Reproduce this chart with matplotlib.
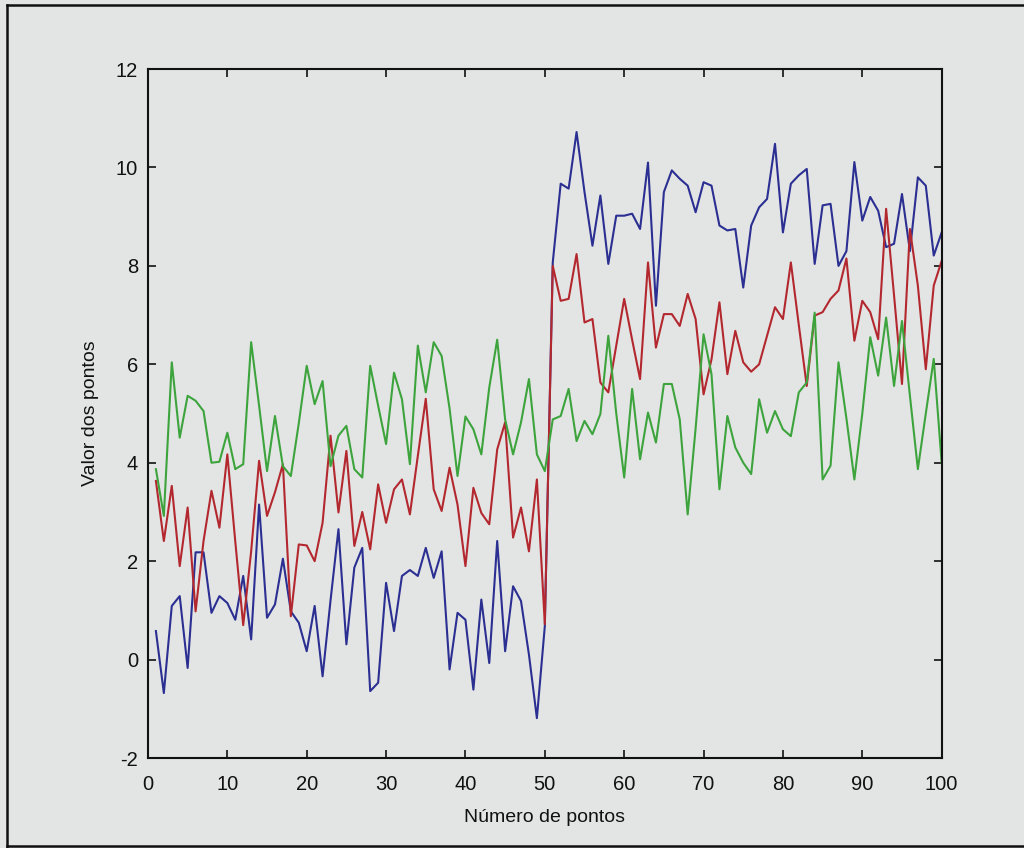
import numpy as np
import matplotlib
matplotlib.use("Agg")
import matplotlib.pyplot as plt
from matplotlib.lines import Line2D

# Point index (1..100) and the three simulated series
pontos = np.arange(1, 101)

serie_azul = [
    0.58, -0.68, 1.09, 1.29, -0.17, 2.18, 2.18, 0.95, 1.29, 1.15,
    0.81, 1.70, 0.41, 3.15, 0.85, 1.12, 2.05, 0.98, 0.75, 0.17,
    1.09, -0.34, 1.20, 2.65, 0.31, 1.87, 2.27, -0.64, -0.47, 1.56,
    0.58, 1.70, 1.82, 1.70, 2.27, 1.66, 2.20, -0.20, 0.95, 0.81,
    -0.61, 1.22, -0.07, 2.41, 0.17, 1.49, 1.19, 0.10, -1.19, 0.68,
    8.07, 9.67, 9.57, 10.72, 9.50, 8.41, 9.43, 8.04, 9.02, 9.02,
    9.06, 8.75, 10.10, 7.19, 9.50, 9.94, 9.77, 9.63, 9.09, 9.70,
    9.63, 8.82, 8.72, 8.75, 7.56, 8.82, 9.19, 9.36, 10.48, 8.68,
    9.67, 9.84, 9.97, 8.04, 9.23, 9.26, 8.00, 8.30, 10.11, 8.92,
    9.40, 9.12, 8.38, 8.45, 9.46, 8.30, 9.80, 9.63, 8.21, 8.68,
]

serie_vermelha = [
    3.63, 2.41, 3.53, 1.90, 3.09, 0.98, 2.41, 3.43, 2.68, 4.17,
    2.40, 0.70, 2.20, 4.04, 2.92, 3.40, 3.97, 0.88, 2.34, 2.32,
    2.00, 2.78, 4.55, 2.99, 4.24, 2.31, 3.00, 2.24, 3.56, 2.78,
    3.46, 3.66, 2.95, 4.14, 5.30, 3.46, 3.02, 3.90, 3.15, 1.90,
    3.49, 2.98, 2.75, 4.27, 4.82, 2.48, 3.09, 2.20, 3.66, 0.72,
    8.00, 7.29, 7.33, 8.24, 6.85, 6.92, 5.63, 5.43, 6.38, 7.33,
    6.50, 5.70, 8.07, 6.34, 7.02, 7.02, 6.78, 7.43, 6.92, 5.39,
    6.10, 7.26, 5.80, 6.68, 6.04, 5.85, 6.00, 6.58, 7.16, 6.92,
    8.07, 6.80, 5.56, 6.99, 7.06, 7.33, 7.50, 8.15, 6.48, 7.29,
    7.06, 6.51, 9.16, 7.40, 5.60, 8.75, 7.60, 5.90, 7.60, 8.10,
]

serie_verde = [
    3.87, 2.92, 6.04, 4.51, 5.36, 5.26, 5.05, 4.00, 4.02, 4.61,
    3.87, 3.97, 6.45, 5.16, 3.83, 4.95, 3.93, 3.73, 4.80, 5.97,
    5.19, 5.66, 3.93, 4.55, 4.75, 3.87, 3.70, 5.97, 5.16, 4.38,
    5.83, 5.29, 3.97, 6.38, 5.43, 6.45, 6.17, 5.10, 3.73, 4.94,
    4.68, 4.17, 5.53, 6.50, 4.88, 4.17, 4.82, 5.70, 4.17, 3.83,
    4.88, 4.95, 5.50, 4.44, 4.85, 4.58, 4.99, 6.58, 5.00, 3.70,
    5.50, 4.07, 5.02, 4.41, 5.60, 5.60, 4.88, 2.95, 4.70, 6.61,
    5.80, 3.46, 4.95, 4.31, 4.00, 3.77, 5.29, 4.61, 5.05, 4.68,
    4.54, 5.43, 5.63, 7.05, 3.66, 3.94, 6.04, 4.90, 3.66, 5.00,
    6.55, 5.77, 6.95, 5.56, 6.88, 5.36, 3.87, 5.00, 6.11, 4.00,
]

x_ticks = [0, 10, 20, 30, 40, 50, 60, 70, 80, 90, 100]
y_ticks = [-2, 0, 2, 4, 6, 8, 10, 12]

papel = "#e3e5e4"
plt.rcParams["font.family"] = ["Liberation Sans", "DejaVu Sans"]
plt.rcParams["axes.unicode_minus"] = False

fig = plt.figure(figsize=(10.24, 8.48), dpi=100, facecolor=papel)
ax = fig.add_axes([0.1445, 0.1061, 0.7751, 0.8125])
ax.set_facecolor(papel)

ax.plot(pontos, serie_azul, color="#2b2f92", lw=1.5)
ax.plot(pontos, serie_vermelha, color="#b3282f", lw=1.5)
ax.plot(pontos, serie_verde, color="#3da43d", lw=1.5)

ax.set_xlim(0, 100)
ax.set_ylim(-2, 12)
ax.set_xticks(x_ticks)
ax.set_yticks(y_ticks)
ax.tick_params(direction="in", length=6, width=1.2, top=True, right=True,
               labelsize=14.5, colors="#111111")
ax.tick_params(axis="x", pad=12)
ax.tick_params(axis="y", pad=7)
for s in ax.spines.values():
    s.set_linewidth(1.5)
    s.set_color("#111111")

ax.set_xlabel("Número de pontos", fontsize=14, labelpad=11, color="#111111")
ax.set_ylabel("Valor dos pontos", fontsize=14, labelpad=12, color="#111111")

# Frame drawn around the figure
for xs, ys in [([0.007, 0.007], [0.0, 0.994]), ([0.007, 1.0], [0.994, 0.994]),
               ([0.007, 1.0], [0.002, 0.002])]:
    fig.add_artist(Line2D(xs, ys, transform=fig.transFigure, color="#111111", lw=1.8))

fig.savefig("out.png", dpi=100, facecolor=papel)
